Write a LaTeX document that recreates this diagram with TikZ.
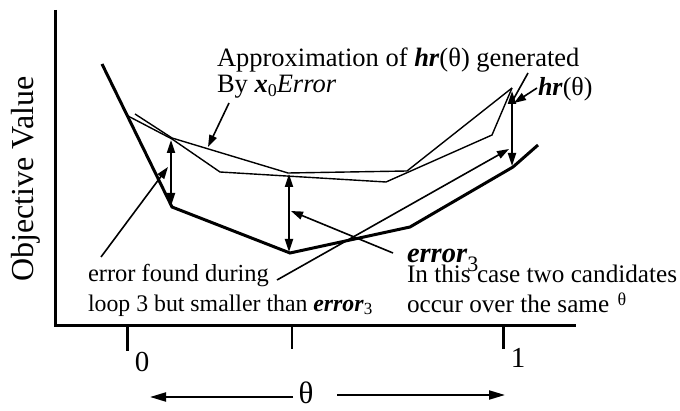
\documentclass[tikz,border=0pt]{standalone}
\usepackage{fontspec}
\setmainfont{Liberation Serif}
\usetikzlibrary{arrows.meta}
\newcommand\bi[1]{\textbf{\textit{#1}}}
\newcommand\mysub[3]{\raisebox{-#2pt}{\fontsize{#3}{#3}\selectfont #1}}
\tikzset{
  lbl/.style={inner sep=0pt, outer sep=0pt, font=\fontsize{24.5}{29}\selectfont},
  thickcurve/.style={line width=3pt, line join=miter},
  thincurve/.style={line width=1.4pt, line join=miter},
  axis/.style={line width=3pt},
  ptr/.style={line width=1.6pt, -{Triangle[length=12pt,width=8pt]}},
  dbl/.style={line width=2pt, {Triangle[length=13pt,width=8pt]}-{Triangle[length=13pt,width=8pt]}},
}
\begin{document}
\begin{tikzpicture}[x=1pt,y=-1pt]
\useasboundingbox (0,0) rectangle (680,411);
% axes
\coordinate (ytop) at (55,10);
\coordinate (orig) at (55,326);
\coordinate (xend) at (576,326);
\draw[axis] (ytop) -- (orig) -- (xend);
\coordinate (k0a) at (127,326); \coordinate (k0b) at (127,351);
\coordinate (kma) at (292,326); \coordinate (kmb) at (292,349);
\coordinate (k1a) at (503,326); \coordinate (k1b) at (503,349);
\draw[line width=3pt] (k0a) -- (k0b);
\draw[line width=1.3pt] (kma) -- (kmb);
\draw[line width=3pt] (k1a) -- (k1b);
% thick curve
\coordinate (t1) at (102,64);
\coordinate (t2) at (172,207);
\coordinate (t3) at (290,253);
\coordinate (t4) at (410,227);
\coordinate (t5) at (513,167);
\coordinate (t6) at (538,145);
\draw[thickcurve] (t1) -- (t2) -- (t3) -- (t4) -- (t5) -- (t6);
% upper thin approximation
\coordinate (u1) at (135,114);
\coordinate (u2) at (172,138);
\coordinate (u3) at (288,173);
\coordinate (u4) at (407,171);
\coordinate (u5) at (512,88);
\draw[thincurve] (u1) -- (u2) -- (u3) -- (u4) -- (u5);
% lower thin approximation
\coordinate (l1) at (128,116);
\coordinate (l2) at (172,139);
\coordinate (l3) at (220,172);
\coordinate (l4) at (386,182);
\coordinate (l5) at (492,135);
\coordinate (l6) at (512,88);
\draw[thincurve] (l1) -- (l2) -- (l3) -- (l4) -- (l5) -- (l6);
% double arrows
\coordinate (d1a) at (171,140); \coordinate (d1b) at (171,206);
\coordinate (d2a) at (289,174); \coordinate (d2b) at (289,252);
\coordinate (d3a) at (512,91);  \coordinate (d3b) at (512,166);
\draw[dbl] (d1a) -- (d1b);
\draw[dbl] (d2a) -- (d2b);
\draw[dbl] (d3a) -- (d3b);
% labels
\node[lbl, anchor=base west, font=\fontsize{26.5}{30}\selectfont] (ap1) at (217,67) {Approximation of \bi{hr}(θ) generated};
\node[lbl, anchor=base west, font=\fontsize{26.5}{30}\selectfont] (ap2) at (217,93) {By \bi{x}\mysub{0}{4}{18}\textit{Error}};
\node[lbl, anchor=base west, font=\fontsize{26}{30}\selectfont] (hr) at (538,96) {\bi{hr}(θ)};
\node[lbl, anchor=base west, font=\fontsize{28.5}{30}\selectfont] (e3) at (407,263) {\bi{error}\mysub{3}{9}{22}};
\node[lbl, anchor=base west] (f1) at (88,282) {error found during};
\node[lbl, anchor=base west, font=\fontsize{23.8}{29}\selectfont] (f2) at (88,312) {loop 3 but smaller than \bi{error}\mysub{3}{3}{17}};
\node[lbl, anchor=base west, font=\fontsize{25.2}{30}\selectfont] (c1) at (407,283) {In this case two candidates};
\node[lbl, anchor=base west, font=\fontsize{25.2}{30}\selectfont] (c2) at (407,313) {occur over the same};
\node[lbl, font=\fontsize{18}{18}\selectfont] (c2t) at (622,299) {θ};
\node[lbl, font=\fontsize{32}{32}\selectfont, rotate=90, anchor=base] (yl) at (33,179) {Objective Value};
\node[lbl, font=\fontsize{29}{29}\selectfont] (zero) at (142,362) {0};
\node[lbl, font=\fontsize{29}{29}\selectfont] (one) at (518,358) {1};
\node[lbl, font=\fontsize{31}{31}\selectfont] (th) at (306,393) {θ};
% theta arrows
\coordinate (thl) at (293,397); \coordinate (thle) at (150,397);
\coordinate (thr) at (337,395); \coordinate (thre) at (505,395);
\draw[line width=2pt, -{Triangle[length=16pt,width=9pt]}] (thl) -- (thle);
\draw[line width=2pt, -{Triangle[length=16pt,width=9pt]}] (thr) -- (thre);
% pointers
\coordinate (p1s) at (229,103); \coordinate (p1e) at (208,147);
\draw[ptr] (p1s) -- (p1e);
\coordinate (p2s) at (528,73); \coordinate (p2e) at (513,100);
\draw[line width=1.6pt] (p2s) -- (p2e);
\coordinate (phs) at (537,88); \coordinate (phe) at (514,103);
\draw[ptr] (phs) -- (phe);
\coordinate (p3s) at (393,253); \coordinate (p3e) at (291,211);
\draw[ptr] (p3s) -- (p3e);
\coordinate (p4s) at (101,257); \coordinate (p4e) at (168,167);
\draw[ptr] (p4s) -- (p4e);
\coordinate (p5s) at (277,280); \coordinate (p5e) at (509,149);
\draw[ptr] (p5s) -- (p5e);
\end{tikzpicture}
\end{document}
